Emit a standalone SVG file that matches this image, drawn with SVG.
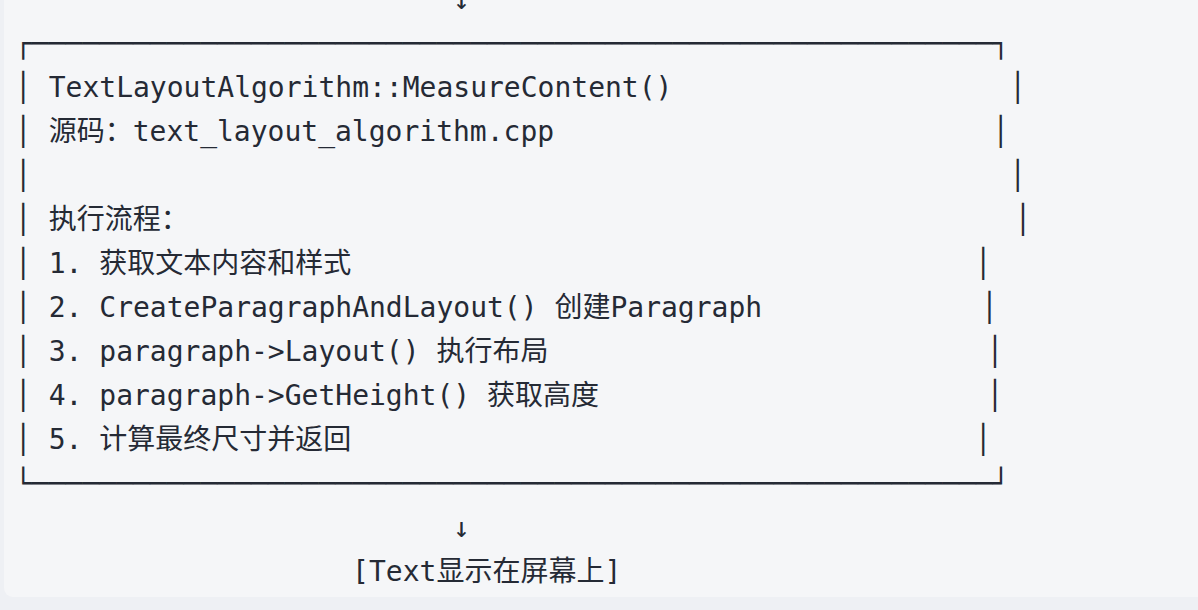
<svg xmlns="http://www.w3.org/2000/svg" width="1198" height="610" viewBox="0 0 1198 610" xml:space="preserve">
<style>
.bg{fill:#eef0f4}
.panel{fill:#f5f6f8}
.t{font-family:"DejaVu Sans Mono","Noto Sans CJK SC",monospace;font-size:28px;fill:#252a35;white-space:pre}
</style>
<rect class="bg" x="0" y="0" width="1198" height="610"/>
<rect class="panel" x="4" y="-20" width="1210" height="617" rx="9" ry="9"/>
<g id="connectors">
<text class="t" x="453.3" y="8.5">↓</text>
<text class="t" x="453.3" y="536.5">↓</text>
</g>
<g id="measure-content">
<text class="t" x="15" y="52.5">┌─────────────────────────────────────────────────────────┐</text>
<text class="t" x="15" y="96.5">│ TextLayoutAlgorithm::MeasureContent()                    │</text>
<text class="t" x="15" y="140.5">│ 源码：text_layout_algorithm.cpp                          │</text>
<text class="t" x="15" y="184.5">│                                                          │</text>
<text class="t" x="15" y="228.5">│ 执行流程：                                                 │</text>
<text class="t" x="15" y="272.5">│ 1. 获取文本内容和样式                                     │</text>
<text class="t" x="15" y="316.5">│ 2. CreateParagraphAndLayout() 创建Paragraph             │</text>
<text class="t" x="15" y="360.5">│ 3. paragraph->Layout() 执行布局                          │</text>
<text class="t" x="15" y="404.5">│ 4. paragraph->GetHeight() 获取高度                       │</text>
<text class="t" x="15" y="448.5">│ 5. 计算最终尺寸并返回                                     │</text>
<text class="t" x="15" y="492.5">└─────────────────────────────────────────────────────────┘</text>
</g>
<g id="text-on-screen">
<text class="t" x="352.1" y="580.5">[Text显示在屏幕上]</text>
</g>
</svg>
